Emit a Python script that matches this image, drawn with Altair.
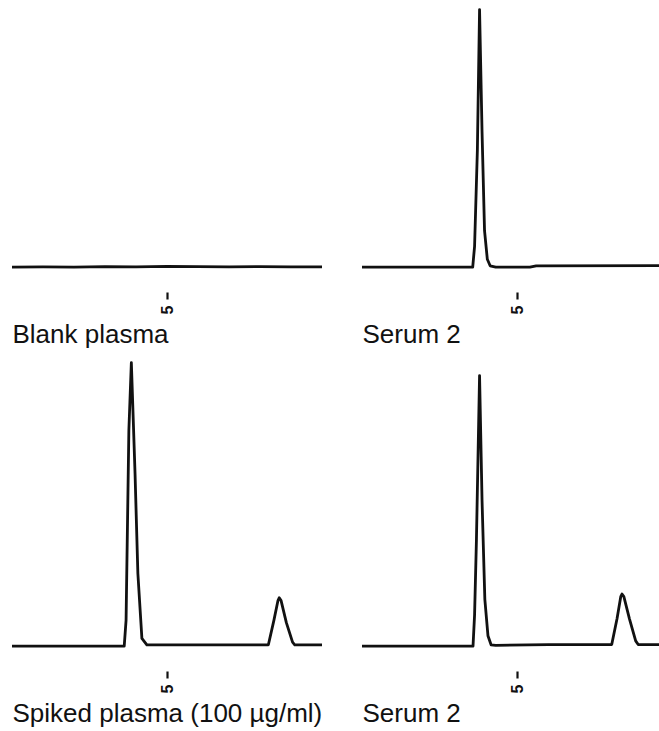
import altair as alt
import pandas as pd

# Panel titles
titles = ["Blank plasma", "Serum 2", "Spiked plasma (100 µg/ml)", "Serum 2"]
tick_values = [5]

# Blank plasma (top-left): flat baseline
t_blank = [0, 1, 2, 3, 4, 5, 6, 7, 8, 9, 10]
y_blank = [0, 0.1, 0.0, 0.2, 0.1, 0.3, 0.2, 0.1, 0.2, 0.1, 0.1]

# Serum 2 (top-right): single large peak
t_serum_a = [0, 2.0, 3.56, 3.62, 3.71, 3.78, 3.86, 3.94, 4.03, 4.12, 4.3, 5.4, 5.6, 9.55]
y_serum_a = [0, 0, 0, 8, 45, 99, 52, 14, 3, 0.5, 0, 0, 0.5, 0.6]

# Spiked plasma (bottom-left): large peak + small peak
t_spiked = [0, 2.0, 3.62, 3.68, 3.77, 3.85, 3.97, 4.06, 4.19, 4.35, 6.0,
            8.27, 8.45, 8.58, 8.62, 8.68, 8.85, 9.05, 9.12, 10]
y_spiked = [0, 0, 0, 10, 83, 109, 66, 28, 3, 0.5, 0.5,
            0.5, 10, 17.5, 18.6, 17.5, 9, 1.5, 0.5, 0.5]

# Serum 2 (bottom-right): large peak + small peak
t_serum_b = [0, 2.0, 3.57, 3.62, 3.68, 3.78, 3.86, 3.95, 4.05, 4.15, 4.3, 6.0,
             8.03, 8.2, 8.32, 8.36, 8.42, 8.6, 8.8, 8.88, 9.55]
y_serum_b = [0, 0, 0, 12, 41, 104, 56, 18, 4, 0.5, 0.3, 0.6,
             0.6, 10.5, 19, 20, 19, 10.5, 2, 0.6, 0.6]

FONT = "Liberation Sans"


def panel(t, y, title, xmax, w, h, ymax):
    df = pd.DataFrame({"t": t, "y": y})
    return alt.Chart(df).mark_line(
        color="#111111", strokeWidth=2.8, strokeJoin="round", clip=True
    ).encode(
        x=alt.X("t:Q",
                scale=alt.Scale(domain=[0, xmax], nice=False, zero=False),
                axis=alt.Axis(values=tick_values, title=title, format="d",
                              domain=False, grid=False,
                              tickSize=7, tickWidth=2.2, tickColor="#111111",
                              offset=21,
                              labelAngle=270, labelFontSize=16, labelFont=FONT,
                              labelFontWeight="bold",
                              labelColor="#111111", labelPadding=6,
                              titleFontSize=26, titleFont=FONT,
                              titleFontWeight="normal", titleColor="#111111",
                              titleAnchor="start", titlePadding=8)),
        y=alt.Y("y:Q", scale=alt.Scale(domain=[-1.5, ymax], nice=False, zero=False),
                axis=None),
    ).properties(width=w, height=h)


top = alt.hconcat(
    panel(t_blank, y_blank, titles[0], 10, 310, 264, 100),
    panel(t_serum_a, y_serum_a, titles[1], 9.55, 297, 264, 100),
    spacing=40,
)
bottom = alt.hconcat(
    panel(t_spiked, y_spiked, titles[2], 10, 310, 290, 110),
    panel(t_serum_b, y_serum_b, titles[3], 9.55, 297, 290, 110),
    spacing=40,
)

chart = alt.vconcat(top, bottom, spacing=12).properties(
    padding={"left": 12, "top": 7, "right": 0, "bottom": 0},
    background="white",
).configure_view(stroke=None)

chart.save("out.html", embed_options={"renderer": "svg", "actions": False})
